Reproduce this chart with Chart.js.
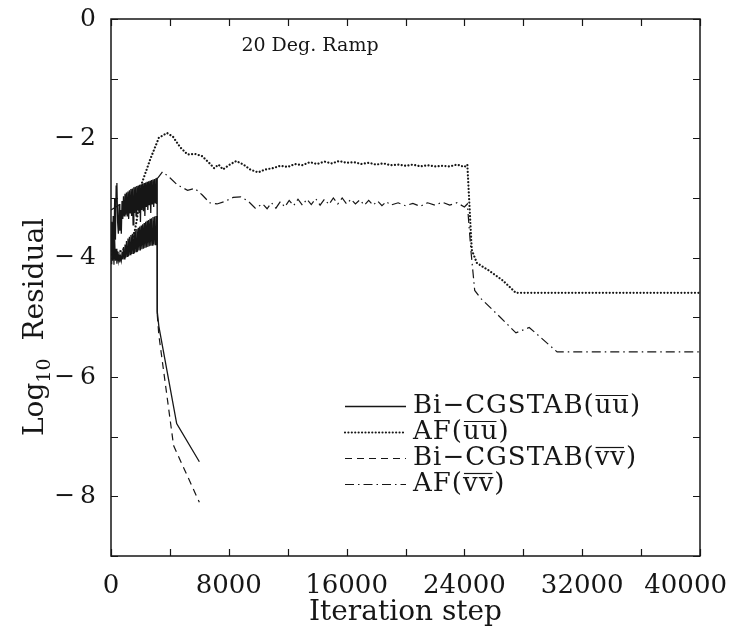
<!DOCTYPE html>
<html>
<head>
<meta charset="utf-8">
<script src="https://cdn.jsdelivr.net/npm/chart.js@4.4.1/dist/chart.umd.min.js"></script>
<style>
  html, body { margin: 0; padding: 0; background: #fff; }
  canvas { display: block; }
</style>
</head>
<body>
<canvas id="residual-chart" width="733" height="636"></canvas>
<script>
// iteration steps / log10 residual
const bandX = [0, 50, 100, 150, 200, 250, 300, 350, 400, 450,
  500, 550, 600, 650, 700, 750, 800, 850, 900, 950,
  1000, 1050, 1100, 1150, 1200, 1250, 1300, 1350, 1400, 1450,
  1500, 1550, 1600, 1650, 1700, 1750, 1800, 1850, 1900, 1950,
  2000, 2050, 2100, 2150, 2200, 2250, 2300, 2350, 2400, 2450,
  2500, 2550, 2600, 2650, 2700, 2750, 2800, 2850, 2900, 2950,
  3000, 3050, 3100];

const bicgUuX = bandX.concat([3130, 3140, 3250, 4460, 6000]);
const bicgUuY = [-3.9, -3.4, -3.95, -3.3, -3.9, -3.0, -3.7, -2.8, -2.75, -3.4,
  -3.6, -3.1, -3.55, -3.2, -3.6, -3.05, -3.35, -2.97, -3.3, -2.93,
  -3.28, -2.91, -3.3, -2.89, -3.35, -2.87, -3.25, -2.85, -3.3, -2.84,
  -3.45, -2.82, -3.25, -2.81, -3.3, -2.8, -3.2, -2.79, -3.25, -2.78,
  -3.4, -2.77, -3.2, -2.76, -3.22, -2.75, -3.3, -2.74, -3.15, -2.73,
  -3.2, -2.72, -3.12, -2.71, -3.25, -2.7, -3.1, -2.69, -3.15, -2.68,
  -3.08, -2.67, -3.1,
  -2.66, -4.9, -5.15, -6.78, -7.42];

const bicgVvX = bandX.concat([3130, 3140, 3250, 4250, 6000]);
const bicgVvY = [-4.1, -3.6, -4.05, -3.75, -4.12, -3.7, -4.05, -3.85, -4.1, -3.9,
  -4.05, -3.95, -4.08, -3.98, -4.05, -3.9, -4.03, -3.82, -4.02, -3.78,
  -4.0, -3.72, -3.98, -3.68, -3.97, -3.65, -3.95, -3.62, -3.94, -3.6,
  -3.93, -3.57, -3.92, -3.55, -3.9, -3.52, -3.9, -3.5, -3.88, -3.48,
  -3.88, -3.46, -3.86, -3.44, -3.85, -3.42, -3.84, -3.4, -3.83, -3.38,
  -3.82, -3.37, -3.81, -3.35, -3.8, -3.34, -3.79, -3.32, -3.78, -3.31,
  -3.78, -3.3, -3.77,
  -3.3, -4.95, -5.3, -7.15, -8.1];

const afUuX = [0, 600, 1200, 1500, 1750, 2100, 2650, 3250, 3800, 4200, 4700, 5200, 5700, 6200, 6700, 7000,
  7300, 7600, 8000, 8500, 9000, 9500, 10000, 10500, 11000, 11500, 12000, 12500, 13000, 13500, 14000,
  14500, 15000, 15500, 16000, 16500, 17000, 17500, 18000, 18500, 19000, 19500, 20000, 20500, 21000,
  21500, 22000, 22500, 23000, 23500, 24000, 24200, 24500, 24850, 25700, 26600, 27500, 40000];
const afUuY = [-3.95, -3.9, -3.8, -3.7, -3.37, -2.75, -2.36, -1.99, -1.91, -1.97, -2.15, -2.27, -2.26, -2.3, -2.42, -2.5,
  -2.44, -2.52, -2.45, -2.38, -2.44, -2.53, -2.57, -2.52, -2.5, -2.46, -2.48, -2.43, -2.45, -2.4, -2.43,
  -2.39, -2.42, -2.38, -2.41, -2.4, -2.43, -2.41, -2.44, -2.42, -2.45, -2.44, -2.46, -2.44, -2.47,
  -2.45, -2.47, -2.46, -2.47, -2.44, -2.48, -2.44, -3.87, -4.09, -4.22, -4.38, -4.59, -4.59];

const afVvX = [0, 1000, 2000, 2800, 3200, 3500, 4000, 4500, 5200, 5700, 6200, 6700, 7200, 7700, 8300, 8800, 9300, 9800,
  10300, 10600, 10900, 11200, 11500, 11800, 12100, 12400, 12700, 13000, 13300, 13600, 13900, 14200, 14500,
  14800, 15100, 15400, 15700, 16000, 16300, 16600, 16900, 17200, 17500, 17800, 18100, 18400, 18700, 19000,
  19500, 20000, 20500, 21000, 21500, 22000, 22500, 23000, 23500, 24000,
  24200, 24450, 24700, 25100, 26400, 27500, 28400, 29100, 30300, 40000];
const afVvY = [-3.2, -3.05, -2.9, -2.75, -2.66, -2.56, -2.66, -2.78, -2.87, -2.84, -2.95, -3.08, -3.1, -3.06, -2.99, -2.98, -3.05, -3.17,
  -3.1, -3.18, -3.08, -3.17, -3.06, -3.15, -3.04, -3.13, -3.02, -3.12, -3.02, -3.11, -3.01, -3.12, -3.02,
  -3.11, -3.0, -3.1, -3.0, -3.1, -3.02, -3.1, -3.03, -3.12, -3.04, -3.12, -3.05, -3.13, -3.06, -3.12,
  -3.08, -3.13, -3.09, -3.14, -3.08, -3.12, -3.07, -3.12, -3.08, -3.15,
  -3.1, -3.9, -4.55, -4.68, -4.99, -5.26, -5.17, -5.32, -5.58, -5.58];

const xLabelTicks = [0, 8000, 16000, 24000, 32000, 40000];
const seriesNames = ["Bi\u2212CGSTAB(", "AF(", "Bi\u2212CGSTAB(", "AF("];
const seriesVars = ["uu", "uu", "vv", "vv"];

const INK = "#161616";
const FONT = "'DejaVu Serif', 'Liberation Serif', serif";
const dashes = [[], [0.01, 3.4], [7, 5], [9, 4, 1.5, 4]];
const widths = [1.3, 2.2, 1.2, 1.2];

const toPoints = (xs, ys) => xs.map((x, i) => ({ x: x, y: ys[i] }));

const frameAndText = {
  id: "frameAndText",
  afterDraw(chart) {
    const ctx = chart.ctx;
    const a = chart.chartArea;
    const xs = chart.scales.x;
    const ys = chart.scales.y;
    ctx.save();
    ctx.strokeStyle = INK;
    ctx.fillStyle = INK;
    ctx.setLineDash([]);
    ctx.lineWidth = 1.5;
    ctx.strokeRect(a.left, a.top, a.right - a.left, a.bottom - a.top);

    // inward ticks on all four sides
    ctx.lineWidth = 1.2;
    ctx.beginPath();
    xs.ticks.forEach(t => {
      const px = Math.round(xs.getPixelForValue(t.value)) + 0.5;
      ctx.moveTo(px, a.bottom); ctx.lineTo(px, a.bottom - 7);
      ctx.moveTo(px, a.top); ctx.lineTo(px, a.top + 7);
    });
    ys.ticks.forEach(t => {
      const py = Math.round(ys.getPixelForValue(t.value)) + 0.5;
      ctx.moveTo(a.left, py); ctx.lineTo(a.left + 7, py);
      ctx.moveTo(a.right, py); ctx.lineTo(a.right - 7, py);
    });
    ctx.stroke();

    // x tick labels
    ctx.font = "26px " + FONT;
    ctx.textBaseline = "middle";
    ctx.textAlign = "left";
    xLabelTicks.forEach(v => {
      const label = String(v);
      const w = ctx.measureText(label).width;
      let lx = xs.getPixelForValue(v) - w / 2;
      lx = Math.min(lx, chart.width - 6 - w);
      ctx.fillText(label, lx, 586);
    });

    // y axis title with subscript
    ctx.save();
    ctx.translate(33, 327);
    ctx.rotate(-Math.PI / 2);
    const big = "28px " + FONT;
    const small = "19px " + FONT;
    ctx.font = big;
    const wLog = ctx.measureText("Log").width;
    const wRes = ctx.measureText("Residual").width;
    ctx.font = small;
    const wSub = ctx.measureText("10").width;
    const gap = 18;
    const total = wLog + wSub + gap + wRes;
    let cx = -total / 2;
    ctx.textBaseline = "alphabetic";
    ctx.font = big;
    ctx.fillText("Log", cx, 10);
    cx += wLog;
    ctx.font = small;
    ctx.fillText("10", cx, 17);
    cx += wSub + gap;
    ctx.font = big;
    ctx.fillText("Residual", cx, 10);
    ctx.restore();

    // title inside plot
    ctx.font = "19px " + FONT;
    ctx.textAlign = "center";
    ctx.textBaseline = "middle";
    ctx.fillText("20 Deg. Ramp", 310, 46);

    // legend
    const rows = [406, 432, 458, 484];
    ctx.textAlign = "left";
    ctx.textBaseline = "middle";
    rows.forEach((ry, i) => {
      ctx.save();
      ctx.lineWidth = widths[i];
      ctx.lineCap = i === 1 ? "round" : "butt";
      ctx.setLineDash(dashes[i]);
      ctx.beginPath();
      ctx.moveTo(345, ry + 0.5);
      ctx.lineTo(406, ry + 0.5);
      ctx.stroke();
      ctx.restore();

      ctx.font = "26px " + FONT;
      ctx.letterSpacing = "1px";
      let tx = 413;
      ctx.fillText(seriesNames[i], tx, ry);
      tx += ctx.measureText(seriesNames[i]).width;
      const wv = ctx.measureText(seriesVars[i]).width;
      ctx.fillText(seriesVars[i], tx, ry);
      ctx.lineWidth = 1.2;
      ctx.beginPath();
      ctx.moveTo(tx + 1, ry - 10.5);
      ctx.lineTo(tx + wv - 2, ry - 10.5);
      ctx.stroke();
      tx += wv;
      ctx.fillText(")", tx, ry);
      ctx.letterSpacing = "0px";
    });
    ctx.restore();
  }
};

const ctx = document.getElementById("residual-chart").getContext("2d");
const residualChart = new Chart(ctx, {
  type: "line",
  data: {
    datasets: [
      {
        label: "Bi-CGSTAB(uu)",
        data: toPoints(bicgUuX, bicgUuY),
        borderColor: INK,
        borderWidth: widths[0]
      },
      {
        label: "AF(uu)",
        data: toPoints(afUuX, afUuY),
        borderColor: INK,
        borderWidth: widths[1],
        borderDash: dashes[1],
        borderCapStyle: "round"
      },
      {
        label: "Bi-CGSTAB(vv)",
        data: toPoints(bicgVvX, bicgVvY),
        borderColor: INK,
        borderWidth: widths[2],
        segment: {
          borderDash: c => c.p0.parsed.x < 3135 ? [] : dashes[2]
        }
      },
      {
        label: "AF(vv)",
        data: toPoints(afVvX, afVvY),
        borderColor: INK,
        borderWidth: widths[3],
        borderDash: dashes[3]
      }
    ]
  },
  options: {
    responsive: false,
    animation: false,
    devicePixelRatio: 1,
    layout: { padding: { top: 19, right: 33, bottom: 0, left: 0 } },
    elements: {
      point: { radius: 0, hoverRadius: 0 },
      line: { tension: 0, fill: false }
    },
    plugins: {
      legend: { display: false },
      tooltip: { enabled: false }
    },
    scales: {
      x: {
        type: "linear",
        min: 0,
        max: 40000,
        ticks: { display: false, stepSize: 4000 },
        grid: { display: false, drawTicks: false },
        border: { display: false },
        title: {
          display: true,
          text: "Iteration step",
          color: INK,
          font: { family: FONT, size: 28 },
          padding: { top: 0, bottom: 6 }
        },
        afterFit(scale) {
          scale.height = 80;
          scale.paddingLeft = 0;
          scale.paddingRight = 0;
        }
      },
      y: {
        type: "linear",
        min: -9,
        max: 0,
        ticks: {
          stepSize: 1,
          padding: 15,
          color: INK,
          font: { family: FONT, size: 25 },
          callback: v => v % 2 === 0 ? (v < 0 ? "\u2212\u2009" + Math.abs(v) : String(v)) : ""
        },
        grid: { display: false, drawTicks: false },
        border: { display: false },
        afterFit(scale) {
          scale.width = 111;
          scale.paddingTop = 0;
          scale.paddingBottom = 0;
        }
      }
    }
  },
  plugins: [frameAndText]
});
</script>
</body>
</html>
